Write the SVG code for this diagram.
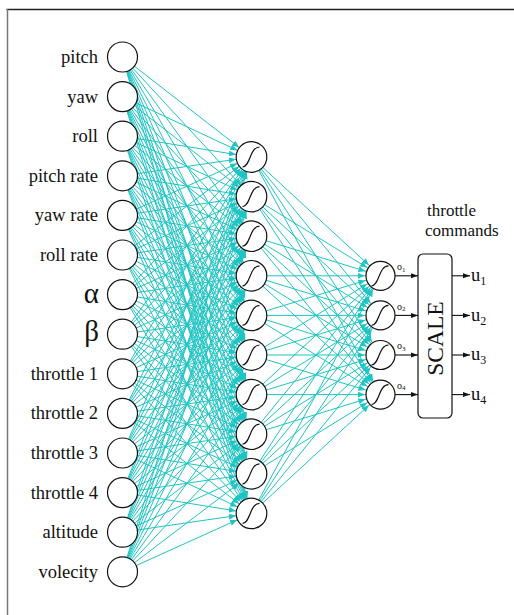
<svg xmlns="http://www.w3.org/2000/svg" width="514" height="615" viewBox="0 0 514 615">
<style>
.lbl{font-family:"Liberation Serif","Times New Roman",serif;font-size:18.5px;fill:#111;text-anchor:end}
.greek{font-family:"Liberation Serif","Times New Roman",serif;font-size:29px;fill:#111;text-anchor:end}
.nd{fill:#fff;stroke:#111;stroke-width:1.2}
.sg{fill:none;stroke:#111;stroke-width:1.2}
.tx{font-family:"Liberation Serif","Times New Roman",serif;fill:#111}
#ih line,#ho line{stroke:#1fc4c4;stroke-width:1}
#ih,#ho{marker-end:url(#ah)}
#out line{stroke:#111;stroke-width:1.1;marker-end:url(#bh)}
</style>
<defs>
<marker id="ah" markerUnits="userSpaceOnUse" markerWidth="24" markerHeight="6" refX="22.8" refY="3" orient="auto"><path d="M0,0 L7,3 L0,6 z" fill="#1fc4c4"/></marker>
<marker id="bh" markerUnits="userSpaceOnUse" markerWidth="8" markerHeight="6" refX="7" refY="3" orient="auto"><path d="M0,0.5 L7,3 L0,5.5 z" fill="#111"/></marker>
<path id="sig" class="sg" d="M-9,10 C-1,10 -2,-10 8,-10"/>
</defs>
<rect width="514" height="615" fill="#fff"/>
<line x1="6.5" y1="9.5" x2="514" y2="9.5" stroke="#222" stroke-width="1.5"/>
<line x1="7.5" y1="9" x2="7.5" y2="615" stroke="#777" stroke-width="1.5"/>
<g id="connectors">
<g id="ih">
<line x1="122.5" y1="57" x2="251.5" y2="157"/><line x1="122.5" y1="57" x2="251.5" y2="196.6"/><line x1="122.5" y1="57" x2="251.5" y2="236.2"/><line x1="122.5" y1="57" x2="251.5" y2="275.8"/><line x1="122.5" y1="57" x2="251.5" y2="315.4"/><line x1="122.5" y1="57" x2="251.5" y2="355"/><line x1="122.5" y1="57" x2="251.5" y2="394.6"/><line x1="122.5" y1="57" x2="251.5" y2="434.2"/><line x1="122.5" y1="57" x2="251.5" y2="473.8"/><line x1="122.5" y1="57" x2="251.5" y2="513.4"/>
<line x1="122.5" y1="96.6" x2="251.5" y2="157"/><line x1="122.5" y1="96.6" x2="251.5" y2="196.6"/><line x1="122.5" y1="96.6" x2="251.5" y2="236.2"/><line x1="122.5" y1="96.6" x2="251.5" y2="275.8"/><line x1="122.5" y1="96.6" x2="251.5" y2="315.4"/><line x1="122.5" y1="96.6" x2="251.5" y2="355"/><line x1="122.5" y1="96.6" x2="251.5" y2="394.6"/><line x1="122.5" y1="96.6" x2="251.5" y2="434.2"/><line x1="122.5" y1="96.6" x2="251.5" y2="473.8"/><line x1="122.5" y1="96.6" x2="251.5" y2="513.4"/>
<line x1="122.5" y1="136.2" x2="251.5" y2="157"/><line x1="122.5" y1="136.2" x2="251.5" y2="196.6"/><line x1="122.5" y1="136.2" x2="251.5" y2="236.2"/><line x1="122.5" y1="136.2" x2="251.5" y2="275.8"/><line x1="122.5" y1="136.2" x2="251.5" y2="315.4"/><line x1="122.5" y1="136.2" x2="251.5" y2="355"/><line x1="122.5" y1="136.2" x2="251.5" y2="394.6"/><line x1="122.5" y1="136.2" x2="251.5" y2="434.2"/><line x1="122.5" y1="136.2" x2="251.5" y2="473.8"/><line x1="122.5" y1="136.2" x2="251.5" y2="513.4"/>
<line x1="122.5" y1="175.8" x2="251.5" y2="157"/><line x1="122.5" y1="175.8" x2="251.5" y2="196.6"/><line x1="122.5" y1="175.8" x2="251.5" y2="236.2"/><line x1="122.5" y1="175.8" x2="251.5" y2="275.8"/><line x1="122.5" y1="175.8" x2="251.5" y2="315.4"/><line x1="122.5" y1="175.8" x2="251.5" y2="355"/><line x1="122.5" y1="175.8" x2="251.5" y2="394.6"/><line x1="122.5" y1="175.8" x2="251.5" y2="434.2"/><line x1="122.5" y1="175.8" x2="251.5" y2="473.8"/><line x1="122.5" y1="175.8" x2="251.5" y2="513.4"/>
<line x1="122.5" y1="215.4" x2="251.5" y2="157"/><line x1="122.5" y1="215.4" x2="251.5" y2="196.6"/><line x1="122.5" y1="215.4" x2="251.5" y2="236.2"/><line x1="122.5" y1="215.4" x2="251.5" y2="275.8"/><line x1="122.5" y1="215.4" x2="251.5" y2="315.4"/><line x1="122.5" y1="215.4" x2="251.5" y2="355"/><line x1="122.5" y1="215.4" x2="251.5" y2="394.6"/><line x1="122.5" y1="215.4" x2="251.5" y2="434.2"/><line x1="122.5" y1="215.4" x2="251.5" y2="473.8"/><line x1="122.5" y1="215.4" x2="251.5" y2="513.4"/>
<line x1="122.5" y1="255" x2="251.5" y2="157"/><line x1="122.5" y1="255" x2="251.5" y2="196.6"/><line x1="122.5" y1="255" x2="251.5" y2="236.2"/><line x1="122.5" y1="255" x2="251.5" y2="275.8"/><line x1="122.5" y1="255" x2="251.5" y2="315.4"/><line x1="122.5" y1="255" x2="251.5" y2="355"/><line x1="122.5" y1="255" x2="251.5" y2="394.6"/><line x1="122.5" y1="255" x2="251.5" y2="434.2"/><line x1="122.5" y1="255" x2="251.5" y2="473.8"/><line x1="122.5" y1="255" x2="251.5" y2="513.4"/>
<line x1="122.5" y1="294.6" x2="251.5" y2="157"/><line x1="122.5" y1="294.6" x2="251.5" y2="196.6"/><line x1="122.5" y1="294.6" x2="251.5" y2="236.2"/><line x1="122.5" y1="294.6" x2="251.5" y2="275.8"/><line x1="122.5" y1="294.6" x2="251.5" y2="315.4"/><line x1="122.5" y1="294.6" x2="251.5" y2="355"/><line x1="122.5" y1="294.6" x2="251.5" y2="394.6"/><line x1="122.5" y1="294.6" x2="251.5" y2="434.2"/><line x1="122.5" y1="294.6" x2="251.5" y2="473.8"/><line x1="122.5" y1="294.6" x2="251.5" y2="513.4"/>
<line x1="122.5" y1="334.2" x2="251.5" y2="157"/><line x1="122.5" y1="334.2" x2="251.5" y2="196.6"/><line x1="122.5" y1="334.2" x2="251.5" y2="236.2"/><line x1="122.5" y1="334.2" x2="251.5" y2="275.8"/><line x1="122.5" y1="334.2" x2="251.5" y2="315.4"/><line x1="122.5" y1="334.2" x2="251.5" y2="355"/><line x1="122.5" y1="334.2" x2="251.5" y2="394.6"/><line x1="122.5" y1="334.2" x2="251.5" y2="434.2"/><line x1="122.5" y1="334.2" x2="251.5" y2="473.8"/><line x1="122.5" y1="334.2" x2="251.5" y2="513.4"/>
<line x1="122.5" y1="373.8" x2="251.5" y2="157"/><line x1="122.5" y1="373.8" x2="251.5" y2="196.6"/><line x1="122.5" y1="373.8" x2="251.5" y2="236.2"/><line x1="122.5" y1="373.8" x2="251.5" y2="275.8"/><line x1="122.5" y1="373.8" x2="251.5" y2="315.4"/><line x1="122.5" y1="373.8" x2="251.5" y2="355"/><line x1="122.5" y1="373.8" x2="251.5" y2="394.6"/><line x1="122.5" y1="373.8" x2="251.5" y2="434.2"/><line x1="122.5" y1="373.8" x2="251.5" y2="473.8"/><line x1="122.5" y1="373.8" x2="251.5" y2="513.4"/>
<line x1="122.5" y1="413.4" x2="251.5" y2="157"/><line x1="122.5" y1="413.4" x2="251.5" y2="196.6"/><line x1="122.5" y1="413.4" x2="251.5" y2="236.2"/><line x1="122.5" y1="413.4" x2="251.5" y2="275.8"/><line x1="122.5" y1="413.4" x2="251.5" y2="315.4"/><line x1="122.5" y1="413.4" x2="251.5" y2="355"/><line x1="122.5" y1="413.4" x2="251.5" y2="394.6"/><line x1="122.5" y1="413.4" x2="251.5" y2="434.2"/><line x1="122.5" y1="413.4" x2="251.5" y2="473.8"/><line x1="122.5" y1="413.4" x2="251.5" y2="513.4"/>
<line x1="122.5" y1="453" x2="251.5" y2="157"/><line x1="122.5" y1="453" x2="251.5" y2="196.6"/><line x1="122.5" y1="453" x2="251.5" y2="236.2"/><line x1="122.5" y1="453" x2="251.5" y2="275.8"/><line x1="122.5" y1="453" x2="251.5" y2="315.4"/><line x1="122.5" y1="453" x2="251.5" y2="355"/><line x1="122.5" y1="453" x2="251.5" y2="394.6"/><line x1="122.5" y1="453" x2="251.5" y2="434.2"/><line x1="122.5" y1="453" x2="251.5" y2="473.8"/><line x1="122.5" y1="453" x2="251.5" y2="513.4"/>
<line x1="122.5" y1="492.6" x2="251.5" y2="157"/><line x1="122.5" y1="492.6" x2="251.5" y2="196.6"/><line x1="122.5" y1="492.6" x2="251.5" y2="236.2"/><line x1="122.5" y1="492.6" x2="251.5" y2="275.8"/><line x1="122.5" y1="492.6" x2="251.5" y2="315.4"/><line x1="122.5" y1="492.6" x2="251.5" y2="355"/><line x1="122.5" y1="492.6" x2="251.5" y2="394.6"/><line x1="122.5" y1="492.6" x2="251.5" y2="434.2"/><line x1="122.5" y1="492.6" x2="251.5" y2="473.8"/><line x1="122.5" y1="492.6" x2="251.5" y2="513.4"/>
<line x1="122.5" y1="532.2" x2="251.5" y2="157"/><line x1="122.5" y1="532.2" x2="251.5" y2="196.6"/><line x1="122.5" y1="532.2" x2="251.5" y2="236.2"/><line x1="122.5" y1="532.2" x2="251.5" y2="275.8"/><line x1="122.5" y1="532.2" x2="251.5" y2="315.4"/><line x1="122.5" y1="532.2" x2="251.5" y2="355"/><line x1="122.5" y1="532.2" x2="251.5" y2="394.6"/><line x1="122.5" y1="532.2" x2="251.5" y2="434.2"/><line x1="122.5" y1="532.2" x2="251.5" y2="473.8"/><line x1="122.5" y1="532.2" x2="251.5" y2="513.4"/>
<line x1="122.5" y1="571.8" x2="251.5" y2="157"/><line x1="122.5" y1="571.8" x2="251.5" y2="196.6"/><line x1="122.5" y1="571.8" x2="251.5" y2="236.2"/><line x1="122.5" y1="571.8" x2="251.5" y2="275.8"/><line x1="122.5" y1="571.8" x2="251.5" y2="315.4"/><line x1="122.5" y1="571.8" x2="251.5" y2="355"/><line x1="122.5" y1="571.8" x2="251.5" y2="394.6"/><line x1="122.5" y1="571.8" x2="251.5" y2="434.2"/><line x1="122.5" y1="571.8" x2="251.5" y2="473.8"/><line x1="122.5" y1="571.8" x2="251.5" y2="513.4"/>
</g>
<g id="ho">
<line x1="251.5" y1="157" x2="380.5" y2="275.8"/><line x1="251.5" y1="157" x2="380.5" y2="315.4"/><line x1="251.5" y1="157" x2="380.5" y2="355"/><line x1="251.5" y1="157" x2="380.5" y2="394.6"/>
<line x1="251.5" y1="196.6" x2="380.5" y2="275.8"/><line x1="251.5" y1="196.6" x2="380.5" y2="315.4"/><line x1="251.5" y1="196.6" x2="380.5" y2="355"/><line x1="251.5" y1="196.6" x2="380.5" y2="394.6"/>
<line x1="251.5" y1="236.2" x2="380.5" y2="275.8"/><line x1="251.5" y1="236.2" x2="380.5" y2="315.4"/><line x1="251.5" y1="236.2" x2="380.5" y2="355"/><line x1="251.5" y1="236.2" x2="380.5" y2="394.6"/>
<line x1="251.5" y1="275.8" x2="380.5" y2="275.8"/><line x1="251.5" y1="275.8" x2="380.5" y2="315.4"/><line x1="251.5" y1="275.8" x2="380.5" y2="355"/><line x1="251.5" y1="275.8" x2="380.5" y2="394.6"/>
<line x1="251.5" y1="315.4" x2="380.5" y2="275.8"/><line x1="251.5" y1="315.4" x2="380.5" y2="315.4"/><line x1="251.5" y1="315.4" x2="380.5" y2="355"/><line x1="251.5" y1="315.4" x2="380.5" y2="394.6"/>
<line x1="251.5" y1="355" x2="380.5" y2="275.8"/><line x1="251.5" y1="355" x2="380.5" y2="315.4"/><line x1="251.5" y1="355" x2="380.5" y2="355"/><line x1="251.5" y1="355" x2="380.5" y2="394.6"/>
<line x1="251.5" y1="394.6" x2="380.5" y2="275.8"/><line x1="251.5" y1="394.6" x2="380.5" y2="315.4"/><line x1="251.5" y1="394.6" x2="380.5" y2="355"/><line x1="251.5" y1="394.6" x2="380.5" y2="394.6"/>
<line x1="251.5" y1="434.2" x2="380.5" y2="275.8"/><line x1="251.5" y1="434.2" x2="380.5" y2="315.4"/><line x1="251.5" y1="434.2" x2="380.5" y2="355"/><line x1="251.5" y1="434.2" x2="380.5" y2="394.6"/>
<line x1="251.5" y1="473.8" x2="380.5" y2="275.8"/><line x1="251.5" y1="473.8" x2="380.5" y2="315.4"/><line x1="251.5" y1="473.8" x2="380.5" y2="355"/><line x1="251.5" y1="473.8" x2="380.5" y2="394.6"/>
<line x1="251.5" y1="513.4" x2="380.5" y2="275.8"/><line x1="251.5" y1="513.4" x2="380.5" y2="315.4"/><line x1="251.5" y1="513.4" x2="380.5" y2="355"/><line x1="251.5" y1="513.4" x2="380.5" y2="394.6"/>
</g>
<g id="out">
<line x1="395" y1="275.8" x2="418" y2="275.8"/><line x1="395" y1="315.4" x2="418" y2="315.4"/><line x1="395" y1="355" x2="418" y2="355"/><line x1="395" y1="394.6" x2="418" y2="394.6"/>
<line x1="452" y1="275.8" x2="470" y2="275.8"/><line x1="452" y1="315.4" x2="470" y2="315.4"/><line x1="452" y1="355" x2="470" y2="355"/><line x1="452" y1="394.6" x2="470" y2="394.6"/>
</g>
</g>
<g id="in-pitch"><circle class="nd" cx="122.5" cy="57" r="15"/><text class="lbl" x="98" y="63">pitch</text></g>
<g id="in-yaw"><circle class="nd" cx="122.5" cy="96.6" r="15"/><text class="lbl" x="98" y="102.6">yaw</text></g>
<g id="in-roll"><circle class="nd" cx="122.5" cy="136.2" r="15"/><text class="lbl" x="98" y="142.2">roll</text></g>
<g id="in-pitchrate"><circle class="nd" cx="122.5" cy="175.8" r="15"/><text class="lbl" x="98" y="181.8">pitch rate</text></g>
<g id="in-yawrate"><circle class="nd" cx="122.5" cy="215.4" r="15"/><text class="lbl" x="98" y="221.4">yaw rate</text></g>
<g id="in-rollrate"><circle class="nd" cx="122.5" cy="255" r="15"/><text class="lbl" x="98" y="261">roll rate</text></g>
<g id="in-alpha"><circle class="nd" cx="122.5" cy="294.6" r="15"/><text class="greek" x="99" y="303">α</text></g>
<g id="in-beta"><circle class="nd" cx="122.5" cy="334.2" r="15"/><text class="greek" x="99" y="341">β</text></g>
<g id="in-throttle1"><circle class="nd" cx="122.5" cy="373.8" r="15"/><text class="lbl" x="98" y="379.8">throttle 1</text></g>
<g id="in-throttle2"><circle class="nd" cx="122.5" cy="413.4" r="15"/><text class="lbl" x="98" y="419.4">throttle 2</text></g>
<g id="in-throttle3"><circle class="nd" cx="122.5" cy="453" r="15"/><text class="lbl" x="98" y="459">throttle 3</text></g>
<g id="in-throttle4"><circle class="nd" cx="122.5" cy="492.6" r="15"/><text class="lbl" x="98" y="498.6">throttle 4</text></g>
<g id="in-altitude"><circle class="nd" cx="122.5" cy="532.2" r="15"/><text class="lbl" x="98" y="538.2">altitude</text></g>
<g id="in-volecity"><circle class="nd" cx="122.5" cy="571.8" r="15"/><text class="lbl" x="98" y="577.8">volecity</text></g>
<g id="h1"><circle class="nd" cx="251.5" cy="157" r="15.3"/><use href="#sig" x="251.5" y="157"/></g>
<g id="h2"><circle class="nd" cx="251.5" cy="196.6" r="15.3"/><use href="#sig" x="251.5" y="196.6"/></g>
<g id="h3"><circle class="nd" cx="251.5" cy="236.2" r="15.3"/><use href="#sig" x="251.5" y="236.2"/></g>
<g id="h4"><circle class="nd" cx="251.5" cy="275.8" r="15.3"/><use href="#sig" x="251.5" y="275.8"/></g>
<g id="h5"><circle class="nd" cx="251.5" cy="315.4" r="15.3"/><use href="#sig" x="251.5" y="315.4"/></g>
<g id="h6"><circle class="nd" cx="251.5" cy="355" r="15.3"/><use href="#sig" x="251.5" y="355"/></g>
<g id="h7"><circle class="nd" cx="251.5" cy="394.6" r="15.3"/><use href="#sig" x="251.5" y="394.6"/></g>
<g id="h8"><circle class="nd" cx="251.5" cy="434.2" r="15.3"/><use href="#sig" x="251.5" y="434.2"/></g>
<g id="h9"><circle class="nd" cx="251.5" cy="473.8" r="15.3"/><use href="#sig" x="251.5" y="473.8"/></g>
<g id="h10"><circle class="nd" cx="251.5" cy="513.4" r="15.3"/><use href="#sig" x="251.5" y="513.4"/></g>
<g id="o1"><circle class="nd" cx="380.5" cy="275.8" r="14.5"/><use href="#sig" x="380.5" y="275.8"/><text class="tx" x="397" y="270" font-size="10">o<tspan font-size="7" dy="1.5">1</tspan></text></g>
<g id="o2"><circle class="nd" cx="380.5" cy="315.4" r="14.5"/><use href="#sig" x="380.5" y="315.4"/><text class="tx" x="397" y="309.6" font-size="10">o<tspan font-size="7" dy="1.5">2</tspan></text></g>
<g id="o3"><circle class="nd" cx="380.5" cy="355" r="14.5"/><use href="#sig" x="380.5" y="355"/><text class="tx" x="397" y="349.2" font-size="10">o<tspan font-size="7" dy="1.5">3</tspan></text></g>
<g id="o4"><circle class="nd" cx="380.5" cy="394.6" r="14.5"/><use href="#sig" x="380.5" y="394.6"/><text class="tx" x="397" y="388.8" font-size="10">o<tspan font-size="7" dy="1.5">4</tspan></text></g>
<g id="scale"><rect x="418" y="254" width="34" height="164" rx="5" fill="#fff" stroke="#111" stroke-width="1.2"/><text class="tx" font-size="23.5" text-anchor="middle" transform="translate(443,338.5) rotate(-90)">SCALE</text></g>
<g id="title"><text class="tx" font-size="17" x="427" y="216">throttle</text><text class="tx" font-size="17" x="425" y="236">commands</text></g>
<g id="u1"><text class="tx" font-size="18.5" x="471" y="281">u<tspan font-size="12" dy="4">1</tspan></text></g>
<g id="u2"><text class="tx" font-size="18.5" x="471" y="320.6">u<tspan font-size="12" dy="4">2</tspan></text></g>
<g id="u3"><text class="tx" font-size="18.5" x="471" y="360.2">u<tspan font-size="12" dy="4">3</tspan></text></g>
<g id="u4"><text class="tx" font-size="18.5" x="471" y="399.8">u<tspan font-size="12" dy="4">4</tspan></text></g>
</svg>
